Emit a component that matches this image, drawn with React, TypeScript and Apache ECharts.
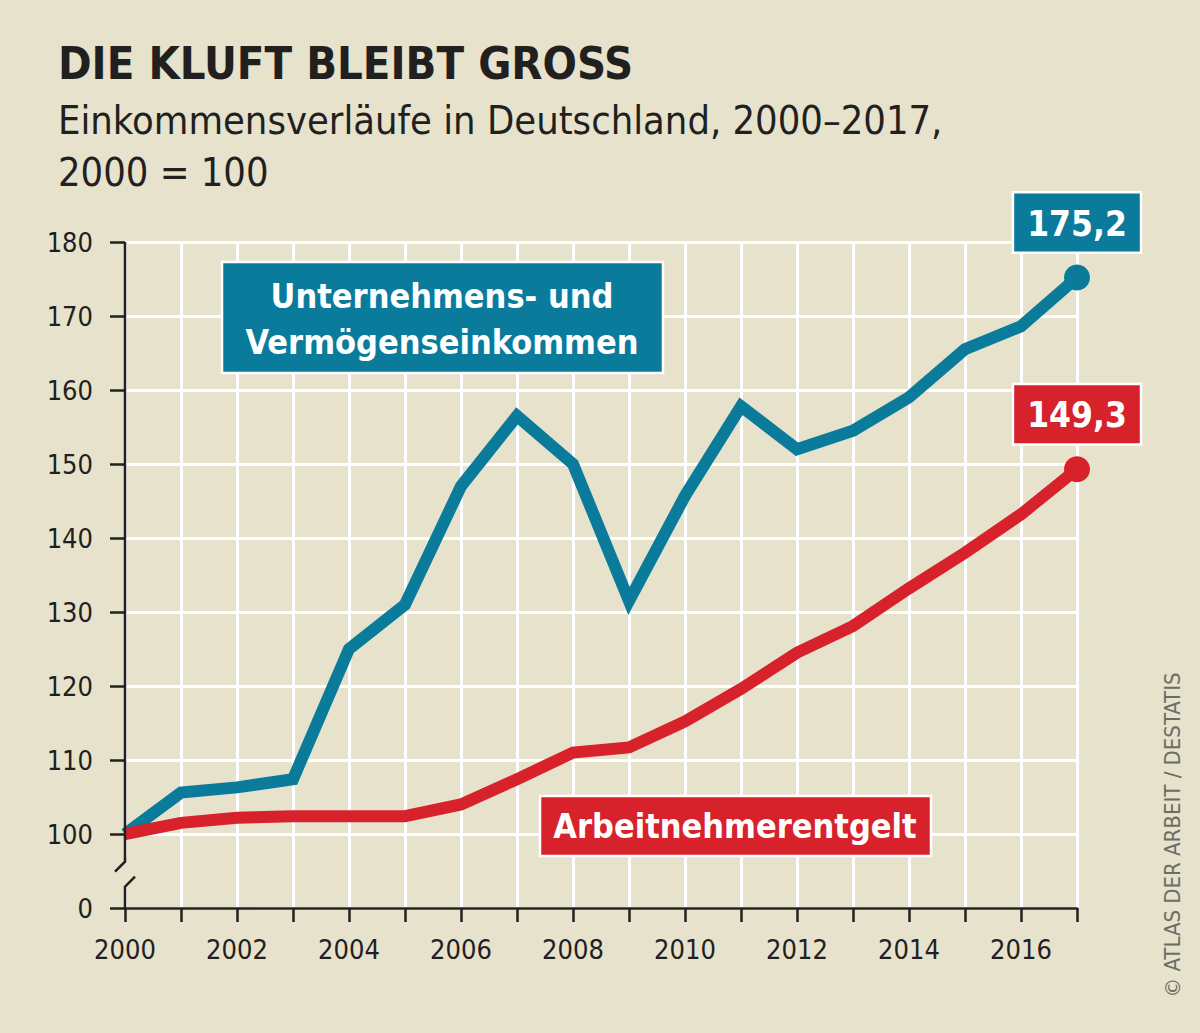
import React, { useEffect, useRef } from "react";
import * as echarts from "echarts";

const years = [2000, 2001, 2002, 2003, 2004, 2005, 2006, 2007, 2008, 2009, 2010, 2011, 2012, 2013, 2014, 2015, 2016, 2017];
const unternehmen = [100, 105.6, 106.3, 107.4, 125.0, 131.0, 147.0, 156.5, 150.0, 131.5, 145.7, 157.8, 152.0, 154.5, 159.0, 165.5, 168.6, 175.2];
const arbeitnehmer = [100, 101.5, 102.2, 102.4, 102.4, 102.4, 104.0, 107.4, 111.0, 111.7, 115.2, 119.6, 124.5, 128.1, 133.2, 138.0, 143.2, 149.3];
const yMin = 90; // shown as "0" below the axis break
const yMax = 180;
const yStep = 10;

const title = "DIE KLUFT BLEIBT GROSS";
const subtitle1 = "Einkommensverläufe in Deutschland, 2000–2017,";
const subtitle2 = "2000 = 100";
const labelUnternehmen = ["Unternehmens- und", "Vermögenseinkommen"];
const labelArbeitnehmer = "Arbeitnehmerentgelt";
const source = "© ATLAS DER ARBEIT / DESTATIS";

const BG = "#e6e2cc";
const BLUE = "#0b7b9c";
const RED = "#d8222b";
const INK = "#221f1f";
const FONT = "'DejaVu Sans Condensed', 'DejaVu Sans', sans-serif";

const W = 1200;
const H = 1033;
const G_LEFT = 125;
const G_RIGHT = 1077;
const G_TOP = 242;
const G_BOT = 908;

export default function App() {
  const ref = useRef<HTMLDivElement>(null);

  useEffect(() => {
    if (!ref.current) return;
    const chart = echarts.init(ref.current, null, { renderer: "svg" });
    const last = years.length - 1;
    const fmt = (v: number) => v.toFixed(1).replace(".", ",");

    const makeData = (vals: number[], color: string) =>
      vals.map((v, i) =>
        i === last
          ? {
              value: [years[i], v],
              symbol: "circle",
              symbolSize: 26,
              label: {
                show: true,
                position: "top",
                distance: 13,
                formatter: () => fmt(v),
                color: "#fff",
                fontFamily: FONT,
                fontWeight: "bold",
                fontSize: 35,
                lineHeight: 40,
                backgroundColor: color,
                borderColor: "#fff",
                borderWidth: 2.5,
                padding: [10, 13, 8, 13],
              },
            }
          : { value: [years[i], v], symbol: "none" }
      );

    const yPix = (v: number) => G_TOP + ((yMax - v) / (yMax - yMin)) * (G_BOT - G_TOP);
    const breakY = yPix(94.5);

    chart.setOption({
      animation: false,
      backgroundColor: BG,
      grid: { left: G_LEFT, right: W - G_RIGHT, top: G_TOP, bottom: H - G_BOT, containLabel: false },
      xAxis: {
        type: "value",
        min: years[0],
        max: years[last],
        interval: 1,
        axisLine: { show: true, lineStyle: { color: INK, width: 2.5 } },
        axisTick: { show: true, inside: false, length: 14, lineStyle: { color: INK, width: 2.5 } },
        axisLabel: {
          formatter: (v: number) => (v % 2 === 0 && v < 2017 ? String(v) : ""),
          color: INK,
          fontFamily: FONT,
          fontSize: 27,
          margin: 28,
          showMinLabel: true,
          showMaxLabel: true,
        },
        splitLine: { show: true, lineStyle: { color: "#ffffff", width: 3 } },
      },
      yAxis: {
        type: "value",
        min: yMin,
        max: yMax,
        interval: yStep,
        axisLine: { show: false },
        axisTick: { show: true, length: 15, lineStyle: { color: INK, width: 2.5 } },
        axisLabel: {
          formatter: (v: number) => (v === yMin ? "0" : String(v)),
          color: INK,
          fontFamily: FONT,
          fontSize: 27,
          margin: 32,
        },
        splitLine: { show: true, lineStyle: { color: "#ffffff", width: 3 } },
      },
      series: [
        {
          type: "line",
          data: makeData(unternehmen, BLUE),
          symbol: "circle",
          showSymbol: true,
          lineStyle: { color: BLUE, width: 12, join: "miter", cap: "butt" },
          itemStyle: { color: BLUE },
          emphasis: { disabled: true },
          z: 3,
        },
        {
          type: "line",
          data: makeData(arbeitnehmer, RED),
          symbol: "circle",
          showSymbol: true,
          lineStyle: { color: RED, width: 12, join: "miter", cap: "butt" },
          itemStyle: { color: RED },
          emphasis: { disabled: true },
          z: 4,
        },
      ],
      graphic: [
        // y axis line with break
        { type: "rect", shape: { x: G_LEFT - 4, y: breakY - 17, width: 8, height: 27 }, style: { fill: BG }, z: 100 },
        {
          type: "polyline",
          shape: { points: [[G_LEFT, G_TOP], [G_LEFT, breakY - 13], [G_LEFT - 10, breakY - 3]] },
          style: { stroke: INK, lineWidth: 2.5, fill: null },
          z: 101,
        },
        {
          type: "polyline",
          shape: { points: [[G_LEFT + 10, breakY + 2], [G_LEFT, breakY + 12], [G_LEFT, G_BOT]] },
          style: { stroke: INK, lineWidth: 2.5, fill: null },
          z: 101,
        },
        // title
        {
          type: "text",
          x: 58,
          y: 63,
          z: 100,
          style: { text: title, font: `bold 45px ${FONT}`, fill: INK, align: "left", verticalAlign: "middle" },
        },
        {
          type: "text",
          x: 58,
          y: 120,
          z: 100,
          style: { text: subtitle1, font: `39.5px ${FONT}`, fill: INK, align: "left", verticalAlign: "middle" },
        },
        {
          type: "text",
          x: 58,
          y: 172,
          z: 100,
          style: { text: subtitle2, font: `39.5px ${FONT}`, fill: INK, align: "left", verticalAlign: "middle" },
        },
        // annotation boxes
        {
          type: "group",
          z: 100,
          children: [
            { type: "rect", z: 100, shape: { x: 222, y: 262, width: 441, height: 111 }, style: { fill: BLUE, stroke: "#fff", lineWidth: 2.5 } },
            {
              type: "text",
              z: 101,
              x: 442,
              y: 296,
              style: { text: labelUnternehmen[0], font: `bold 34px ${FONT}`, fill: "#fff", align: "center", verticalAlign: "middle" },
            },
            {
              type: "text",
              z: 101,
              x: 442,
              y: 342,
              style: { text: labelUnternehmen[1], font: `bold 34px ${FONT}`, fill: "#fff", align: "center", verticalAlign: "middle" },
            },
          ],
        },
        {
          type: "group",
          z: 100,
          children: [
            { type: "rect", z: 100, shape: { x: 540, y: 796, width: 391, height: 60 }, style: { fill: RED, stroke: "#fff", lineWidth: 2.5 } },
            {
              type: "text",
              z: 101,
              x: 735,
              y: 826,
              style: { text: labelArbeitnehmer, font: `bold 34px ${FONT}`, fill: "#fff", align: "center", verticalAlign: "middle" },
            },
          ],
        },
        // source
        {
          type: "text",
          x: 1172,
          y: 835,
          z: 100,
          rotation: Math.PI / 2,
          style: { text: source, font: `22px ${FONT}`, fill: "#6e6c66", align: "center", verticalAlign: "middle" },
        },
      ],
    });

    return () => chart.dispose();
  }, []);

  return <div ref={ref} style={{ position: "absolute", left: 0, top: 0, width: W, height: H }} />;
}
